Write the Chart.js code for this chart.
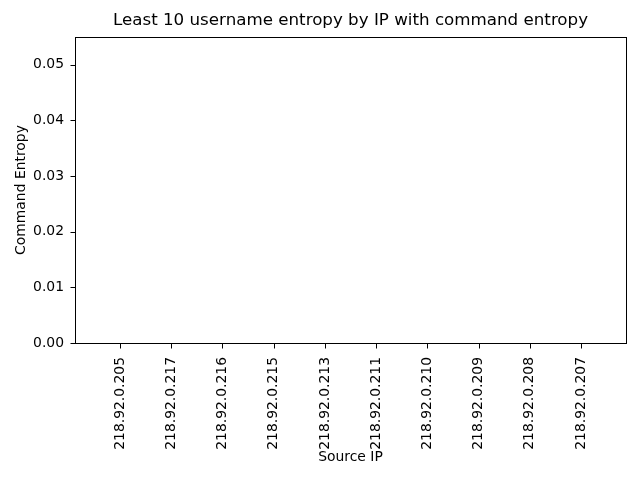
<!DOCTYPE html>
<html>
<head>
<meta charset="utf-8">
<script src="https://cdn.jsdelivr.net/npm/chart.js@4/dist/chart.umd.min.js"></script>
<style>
  body { margin: 0; background: #fff; }
  canvas { display: block; }
</style>
</head>
<body>
<canvas id="myChart" width="640" height="480"></canvas>
<script>
// source IPs, in the order drawn
const ipLabels = [
  "218.92.0.205", "218.92.0.217", "218.92.0.216", "218.92.0.215", "218.92.0.213",
  "218.92.0.211", "218.92.0.210", "218.92.0.209", "218.92.0.208", "218.92.0.207"
];
// command entropy per IP (all bars are flat in the picture)
const entropyValues = [0, 0, 0, 0, 0, 0, 0, 0, 0, 0];
const yTicks = [0, 0.01, 0.02, 0.03, 0.04, 0.05];

const font = "'DejaVu Sans', sans-serif";

// matplotlib style box round the plot, with outward tick marks
const frame = {
  id: "frame",
  afterDraw(chart) {
    const { ctx, chartArea: a, scales } = chart;
    ctx.save();
    ctx.strokeStyle = "#000";
    ctx.lineWidth = 1;
    const l = Math.round(a.left) + 0.5, b = Math.round(a.bottom) + 0.5;
    ctx.strokeRect(l, Math.round(a.top) + 0.5,
      Math.round(a.right - a.left), Math.round(a.bottom - a.top));
    ctx.beginPath();
    scales.x.ticks.forEach((t) => {
      const px = Math.round(scales.x.getPixelForValue(t.value)) + 0.5;
      ctx.moveTo(px, b);
      ctx.lineTo(px, b + 5);
    });
    scales.y.ticks.forEach((t) => {
      const py = Math.round(scales.y.getPixelForValue(t.value)) + 0.5;
      ctx.moveTo(l, py);
      ctx.lineTo(l - 5, py);
    });
    ctx.stroke();
    ctx.restore();
  }
};

const ctx = document.getElementById("myChart");
let chart = new Chart(ctx, {
  type: "bar",
  data: {
    datasets: [{
      label: "Command Entropy",
      data: entropyValues.map((v, i) => ({ x: i, y: v })),
      backgroundColor: "#1f77b4",
      barPercentage: 0.8,
      categoryPercentage: 1
    }]
  },
  options: {
    responsive: false,
    animation: false,
    layout: { padding: { left: 0, right: 14, top: 0, bottom: 0 } },
    plugins: {
      legend: { display: false },
      tooltip: { enabled: false },
      title: {
        display: true,
        fullSize: false,
        text: "Least 10 username entropy by IP with command entropy",
        color: "#000",
        font: { family: font, size: 16.7, weight: "normal" },
        padding: { top: 11, bottom: 6 }
      }
    },
    scales: {
      x: {
        type: "linear",
        min: -0.88,
        max: 9.88,
        offset: false,
        afterBuildTicks: (axis) => { axis.ticks = ipLabels.map((_, i) => ({ value: i })); },
        afterFit: (axis) => { axis.height = 137; },
        ticks: {
          color: "#000",
          font: { family: font, size: 13.9 },
          minRotation: 90,
          maxRotation: 90,
          autoSkip: false,
          padding: 6,
          callback: (v) => ipLabels[v]
        },
        grid: { display: false },
        border: { display: false },
        title: {
          display: true,
          text: "Source IP",
          color: "#000",
          font: { family: font, size: 13.9 },
          padding: { top: 0, bottom: 14 }
        }
      },
      y: {
        min: 0,
        max: 0.055,
        afterBuildTicks: (axis) => { axis.ticks = yTicks.map((v) => ({ value: v })); },
        afterFit: (axis) => { axis.width = 75; },
        ticks: {
          color: "#000",
          font: { family: font, size: 13.9 },
          padding: 3,
          callback: (v) => v.toFixed(2)
        },
        grid: { display: false },
        border: { display: false },
        title: {
          display: true,
          text: "Command Entropy",
          color: "#000",
          font: { family: font, size: 13.9 },
          padding: { top: 13, bottom: 0 }
        }
      }
    }
  },
  plugins: [frame]
});
</script>
</body>
</html>
